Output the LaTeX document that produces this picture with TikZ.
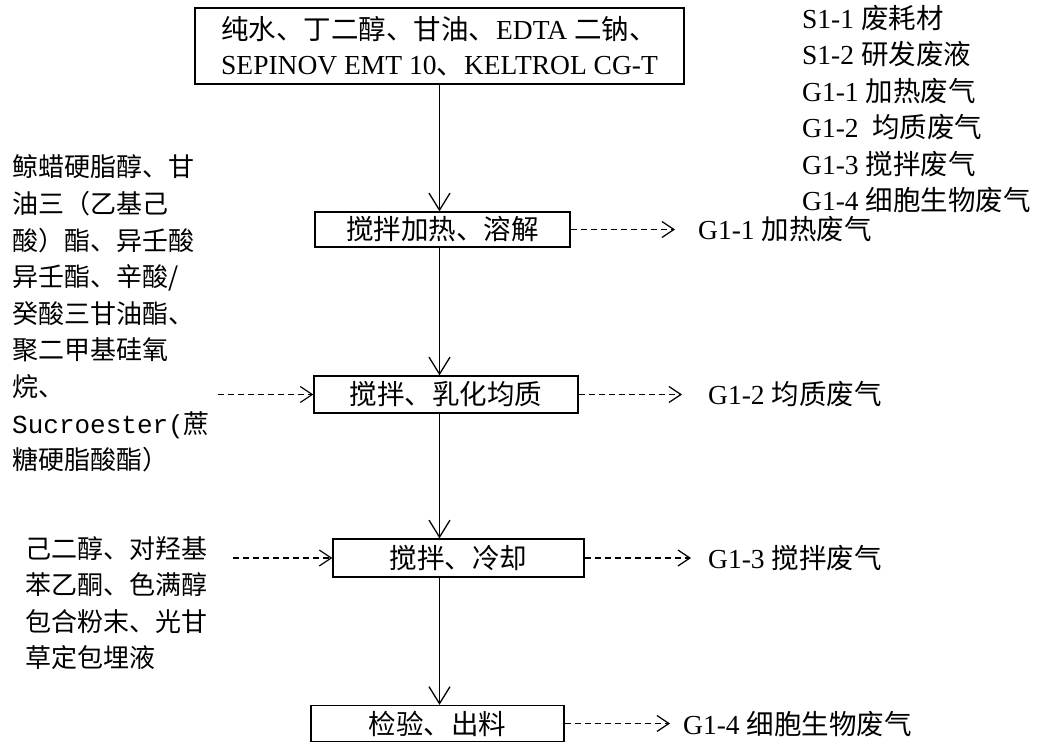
\documentclass[tikz,border=0pt]{standalone}
\usepackage{fontspec}
\setmainfont{Noto Sans CJK SC}
\newfontfamily\lat{Liberation Serif}
\newfontfamily\mono{Liberation Mono}
\usetikzlibrary{arrows.meta}
\begin{document}
\begin{tikzpicture}[x=1pt,y=-1pt,
  box/.style={draw, line width=1.3pt, inner sep=0pt, font=\fontsize{27.5}{35}\selectfont},
  flow/.style={line width=1.3pt, -{Straight Barb[length=17pt,width=21pt]}},
  side/.style={line width=1.2pt, dash pattern=on 6pt off 4pt, -{Straight Barb[length=12pt,width=16pt]}},
  lab/.style={anchor=base west, inner sep=0pt, font=\fontsize{27.5}{33}\selectfont},
  lft/.style={anchor=base west, inner sep=0pt, font=\fontsize{26}{33}\selectfont}]
\useasboundingbox (0,0) rectangle (1037,743);
% process boxes
\node[box, minimum width=489pt, minimum height=76pt, align=left] (b1) at (439.5,46)
  {纯水、丁二醇、甘油、{\lat EDTA }二钠、\\{\lat SEPINOV EMT 10}、{\lat KELTROL CG-T}};
\node[box, minimum width=255pt, minimum height=35pt] (b2) at (442.5,229.5) {搅拌加热、溶解};
\node[box, minimum width=264pt, minimum height=37pt] (b3) at (446,394.5) {搅拌、乳化均质};
\node[box, minimum width=251pt, minimum height=38pt] (b4) at (458.5,558) {搅拌、冷却};
\node[box, minimum width=253pt, minimum height=36pt] (b5) at (437.5,723.5) {检验、出料};
% main flow
\draw[flow] (b1.south) -- (b1.south |- b2.north);
\draw[flow] (b1.south |- b2.south) -- (b1.south |- b3.north);
\draw[flow] (b1.south |- b3.south) -- (b1.south |- b4.north);
\draw[flow] (b1.south |- b4.south) -- (b1.south |- b5.north);
% emission labels
\node[lab] (g1) at (698,240) {{\lat G1-1 }加热废气};
\node[lab] (g2) at (708,405) {{\lat G1-2 }均质废气};
\node[lab] (g3) at (708,568.5) {{\lat G1-3 }搅拌废气};
\node[lab] (g4) at (683,734.5) {{\lat G1-4 }细胞生物废气};
\coordinate (t1) at (675,229.5);
\coordinate (t2) at (682,394.5);
\coordinate (t3) at (691,558);
\coordinate (t4) at (670,723.5);
\draw[side] (b2.east) -- (t1);
\draw[side] (b3.east) -- (t2);
\draw[side] (b4.east) -- (t3);
\draw[side] (b5.east) -- (t4);
% legend
\foreach \t [count=\i from 0] in {{\lat S1-1 }废耗材,{\lat S1-2 }研发废液,{\lat G1-1 }加热废气,{\lat G1-2~~}均质废气,{\lat G1-3 }搅拌废气,{\lat G1-4 }细胞生物废气}
  \node[lab, name=lg\i] at (802,28.5+36.4*\i) {\t};
% left inputs
\foreach \t [count=\i from 0] in {鲸蜡硬脂醇、甘,油三（乙基己,酸）酯、异壬酸,异壬酯、辛酸/,癸酸三甘油酯、,聚二甲基硅氧,烷、,{{\mono Sucroester(}蔗},糖硬脂酸酯）}
  \node[lft, name=la\i] at (12,177+36.6*\i) {\t};
\foreach \t [count=\i from 0] in {己二醇、对羟基,苯乙酮、色满醇,包合粉末、光甘,草定包埋液}
  \node[lft, name=lb\i] at (25,558+36.6*\i) {\t};
\coordinate (s1) at (218,394.5);
\coordinate (s2) at (233,558);
\draw[side] (s1) -- (b3.west);
\draw[side] (s2) -- (b4.west);
\end{tikzpicture}
\end{document}
